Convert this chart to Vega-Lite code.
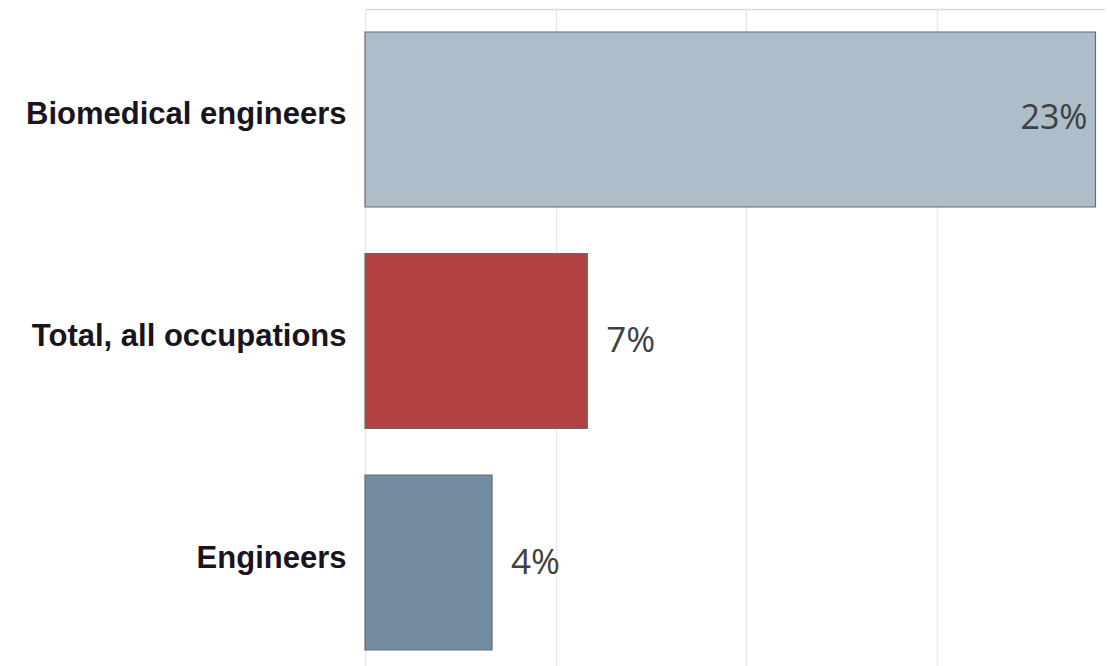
{
  "$schema": "https://vega.github.io/schema/vega-lite/v6.json",
  "width": 740,
  "height": 657,
  "autosize": {"type": "none"},
  "padding": {"left": 365, "top": 9, "right": 3, "bottom": 0},
  "background": "white",
  "config": {"view": {"stroke": null}},
  "data": {
    "values": [
      {"occupation": "Biomedical engineers", "value": 23, "label": "23%", "color": "#adbdc9"},
      {"occupation": "Total, all occupations", "value": 7, "label": "7%", "color": "#b24143"},
      {"occupation": "Engineers", "value": 4, "label": "4%", "color": "#728ca1"}
    ]
  },
  "encoding": {
    "y": {
      "field": "occupation",
      "type": "nominal",
      "sort": null,
      "scale": {"paddingInner": 0.21, "paddingOuter": 0.088, "align": 0.59},
      "axis": {
        "title": null,
        "domain": false,
        "ticks": false,
        "labelPadding": 19,
        "labelOffset": -4,
        "labelFont": "Liberation Sans",
        "labelFontWeight": "bold",
        "labelFontSize": 31,
        "labelColor": "#1a1420",
        "labelLimit": 400
      }
    }
  },
  "layer": [
    {
      "mark": {"type": "bar", "stroke": "#6b6b6b", "strokeWidth": 1.2},
      "encoding": {
        "x": {
          "field": "value",
          "type": "quantitative",
          "scale": {"domain": [0, 23.3], "nice": false},
          "axis": {
            "orient": "top",
            "title": null,
            "values": [0, 6, 12, 18],
            "labels": false,
            "ticks": false,
            "domain": true,
            "domainColor": "#dadada",
            "domainWidth": 1.5,
            "grid": true,
            "gridColor": "#e9e9e9",
            "gridWidth": 1.5
          }
        },
        "color": {"field": "color", "type": "nominal", "scale": null}
      }
    },
    {
      "transform": [{"filter": "datum.value > 20"}],
      "mark": {"type": "text", "align": "right", "baseline": "middle", "dx": -8, "font": "Open Sans", "fontSize": 34, "color": "#404040"},
      "encoding": {
        "x": {"field": "value", "type": "quantitative"},
        "text": {"field": "label"}
      }
    },
    {
      "transform": [{"filter": "datum.value <= 20"}],
      "mark": {"type": "text", "align": "left", "baseline": "middle", "dx": 19, "font": "Open Sans", "fontSize": 35, "color": "#404040"},
      "encoding": {
        "x": {"field": "value", "type": "quantitative"},
        "text": {"field": "label"}
      }
    }
  ]
}
